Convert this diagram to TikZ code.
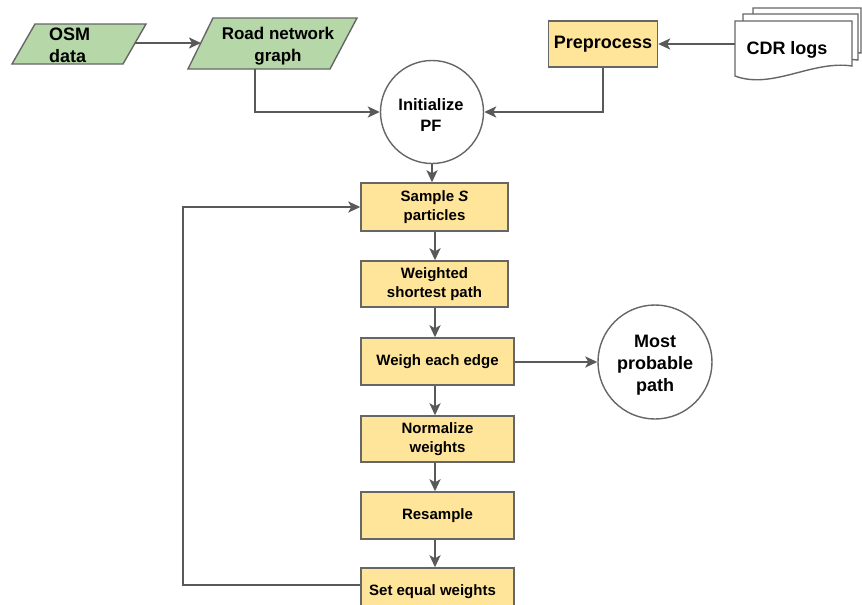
\documentclass[tikz,border=0pt]{standalone}
\usepackage{fontspec}
\setmainfont{Liberation Sans}
\usetikzlibrary{arrows.meta}
\definecolor{gfill}{HTML}{B6D7A8}
\definecolor{yfill}{HTML}{FFE599}
\definecolor{edgec}{HTML}{666666}
\definecolor{conn}{HTML}{595959}
\begin{document}
\begin{tikzpicture}[x=1pt,y=-1pt,
  shapeline/.style={draw=edgec, line width=1.4pt},
  box/.style={shapeline, fill=yfill, rectangle, inner sep=0pt, align=center, font=\fontsize{15}{18.3}\selectfont\bfseries},
  circ/.style={shapeline, fill=white, circle, inner sep=0pt},
  arr/.style={draw=conn, line width=2.2pt, -{Stealth[length=12pt,width=11pt,inset=3pt]}},
  lbl/.style={inner sep=0pt, align=center}]
\useasboundingbox (0,0) rectangle (862,605);
% ---- OSM data (parallelogram)
\draw[shapeline, fill=gfill] (35,24) -- (146,24) -- (123,64) -- (12,64) -- cycle;
\node[lbl, align=left, anchor=west, font=\fontsize{18}{21.7}\selectfont\bfseries] (osm) at (49,45) {OSM\\data};
\coordinate (osmR) at (135,43);
% ---- Road network graph
\draw[shapeline, fill=gfill] (213,18) -- (357,18) -- (330,69) -- (188,69) -- cycle;
\node[lbl, font=\fontsize{17}{21.4}\selectfont\bfseries] (road) at (278,46) {Road network\\graph};
\coordinate (roadL) at (201,43);
\coordinate (roadB) at (255,69);
% ---- CDR logs (document stack)
\draw[shapeline, fill=white] (753,8) -- (861,8) -- (861,53) .. controls (826,49) and (790,72) .. (753,62) -- cycle;
\draw[shapeline, fill=white] (743,14) -- (858,14) -- (858,60) .. controls (820,56) and (775,79) .. (743,69) -- cycle;
\draw[shapeline, fill=white] (735,21) -- (852,21) -- (852,66) .. controls (812,60) and (772,90) .. (735,76) -- cycle;
\node[lbl, font=\fontsize{18}{21.7}\selectfont\bfseries] (cdr) at (787,50) {CDR logs};
\coordinate (cdrL) at (735,44);
% ---- Preprocess
\node[box, minimum width=109pt, minimum height=46pt, font=\fontsize{18}{21.7}\selectfont\bfseries] (pre) at (603,44) {Preprocess};
% ---- Initialize PF
\node[circ, minimum size=103pt] (init) at (432,112) {};
\node[lbl, font=\fontsize{16.5}{21}\selectfont\bfseries] (inittxt) at (431,115) {Initialize\\PF};
% ---- main column
\node[box, minimum width=147pt, minimum height=48pt] (sample) at (434.5,207) {Sample \textit{S}\\particles};
\node[box, minimum width=147pt, minimum height=46pt] (wsp) at (434.5,284) {Weighted\\shortest path};
\node[box, minimum width=153pt, minimum height=47pt] (weigh) at (437.5,361.5) {Weigh each edge};
\node[box, minimum width=153pt, minimum height=46pt] (norm) at (437.5,439) {Normalize\\weights};
\node[box, minimum width=153pt, minimum height=47pt] (res) at (437.5,515.5) {Resample};
\node[box, minimum width=153pt, minimum height=47pt] (seteq) at (437.5,591.5) {Set equal weights\hspace{10pt}};
% ---- Most probable path
\node[circ, minimum size=114pt] (most) at (655,362) {};
\node[lbl, font=\fontsize{18}{21.7}\selectfont\bfseries] (mosttxt) at (655,365) {Most\\probable\\path};
% ---- connectors
\draw[arr] (osmR) -- (roadL);
\draw[arr] (roadB) |- (init.west);
\draw[arr] (cdrL) -- (pre.east);
\draw[arr] (pre.south) |- (init.east);
\coordinate (colx) at (435,0);
\draw[arr] (init.south) -- (init.south |- sample.north);
\draw[arr] (colx |- sample.south) -- (colx |- wsp.north);
\draw[arr] (colx |- wsp.south) -- (colx |- weigh.north);
\draw[arr] (colx |- weigh.south) -- (colx |- norm.north);
\draw[arr] (colx |- norm.south) -- (colx |- res.north);
\draw[arr] (colx |- res.south) -- (colx |- seteq.north);
\draw[arr] (weigh.east |- most.west) -- (most.west);
\coordinate (loopL) at (183,585);
\draw[arr] (seteq.west |- loopL) -- (loopL) |- (sample.west);
\end{tikzpicture}
\end{document}
